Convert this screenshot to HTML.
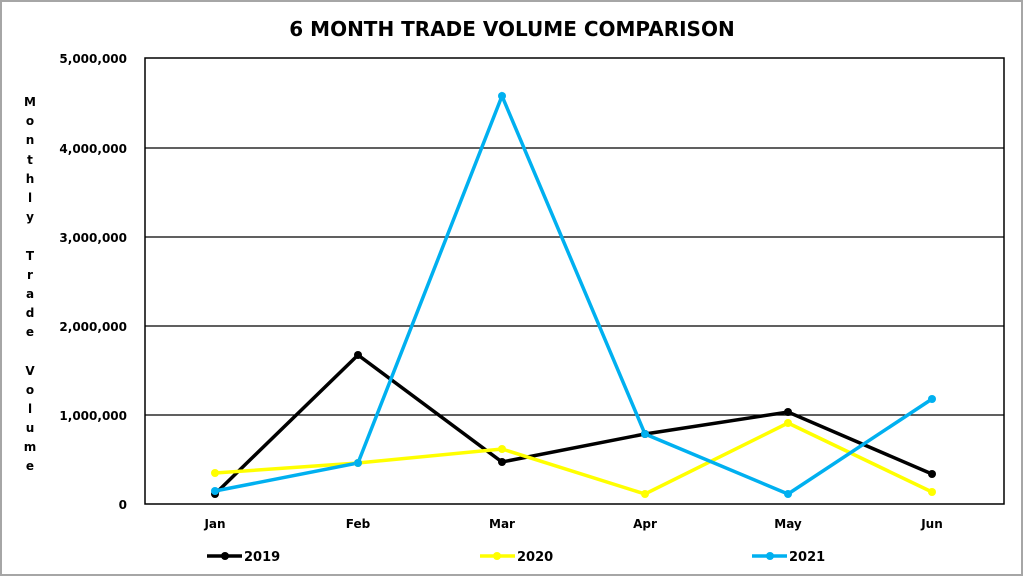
<!DOCTYPE html>
<html><head><style>
html,body{margin:0;padding:0;background:#fff;}
svg{display:block;font-family:"DejaVu Sans","Liberation Sans",sans-serif;font-weight:bold;}
</style></head><body>
<svg width="1024" height="577" viewBox="0 0 1024 577" xmlns="http://www.w3.org/2000/svg">
<rect x="1" y="1" width="1021" height="574" fill="#fff" stroke="#a6a6a6" stroke-width="2"/>
<text x="512" y="36" text-anchor="middle" font-size="20" fill="#000">6 MONTH TRADE VOLUME COMPARISON</text>
<g stroke="#000" stroke-width="1.3">
<line x1="145" y1="148" x2="1004" y2="148"/>
<line x1="145" y1="237" x2="1004" y2="237"/>
<line x1="145" y1="326" x2="1004" y2="326"/>
<line x1="145" y1="415" x2="1004" y2="415"/>
</g>
<rect x="145" y="58" width="859" height="446" fill="none" stroke="#000" stroke-width="1.5"/>
<g font-size="12" text-anchor="end" fill="#000">
<text x="127" y="63">5,000,000</text>
<text x="127" y="153">4,000,000</text>
<text x="127" y="242">3,000,000</text>
<text x="127" y="331">2,000,000</text>
<text x="127" y="420">1,000,000</text>
<text x="127" y="509">0</text>
</g>
<g font-size="12" text-anchor="middle" fill="#000">
<text x="215" y="528">Jan</text><text x="358" y="528">Feb</text><text x="502" y="528">Mar</text>
<text x="645" y="528">Apr</text><text x="788" y="528">May</text><text x="932" y="528">Jun</text>
</g>
<g font-size="12" text-anchor="middle" fill="#000">
<text x="30" y="106">M</text><text x="30" y="125">o</text><text x="30" y="144">n</text><text x="30" y="164">t</text><text x="30" y="183">h</text><text x="30" y="202">l</text><text x="30" y="221">y</text>
<text x="30" y="260">T</text><text x="30" y="279">r</text><text x="30" y="298">a</text><text x="30" y="317">d</text><text x="30" y="336">e</text>
<text x="30" y="375">V</text><text x="30" y="394">o</text><text x="30" y="413">l</text><text x="30" y="432">u</text><text x="30" y="451">m</text><text x="30" y="470">e</text>
</g>
<polyline points="215,494 358,355 502,462 645,434 788,412 932,474" fill="none" stroke="#000" stroke-width="3.5"/>
<polyline points="215,473 358,463 502,449 645,494 788,423 932,492" fill="none" stroke="#ffff00" stroke-width="3.5"/>
<polyline points="215,491 358,463 502,96 645,434 788,494 932,399" fill="none" stroke="#00b0f0" stroke-width="3.5"/>
<g fill="#000"><circle cx="215" cy="494" r="4"/><circle cx="358" cy="355" r="4"/><circle cx="502" cy="462" r="4"/><circle cx="645" cy="434" r="4"/><circle cx="788" cy="412" r="4"/><circle cx="932" cy="474" r="4"/></g>
<g fill="#ffff00"><circle cx="215" cy="473" r="4"/><circle cx="358" cy="463" r="4"/><circle cx="502" cy="449" r="4"/><circle cx="645" cy="494" r="4"/><circle cx="788" cy="423" r="4"/><circle cx="932" cy="492" r="4"/></g>
<g fill="#00b0f0"><circle cx="215" cy="491" r="4"/><circle cx="358" cy="463" r="4"/><circle cx="502" cy="96" r="4"/><circle cx="645" cy="434" r="4"/><circle cx="788" cy="494" r="4"/><circle cx="932" cy="399" r="4"/></g>
<g font-size="13" fill="#000">
<line x1="207" y1="556" x2="242" y2="556" stroke="#000" stroke-width="3.5"/><circle cx="225" cy="556" r="4"/>
<text x="244" y="561">2019</text>
<line x1="480" y1="556" x2="515" y2="556" stroke="#ffff00" stroke-width="3.5"/><circle cx="497" cy="556" r="4" fill="#ffff00"/>
<text x="517" y="561">2020</text>
<line x1="752" y1="556" x2="787" y2="556" stroke="#00b0f0" stroke-width="3.5"/><circle cx="770" cy="556" r="4" fill="#00b0f0"/>
<text x="789" y="561">2021</text>
</g>
</svg>
</body></html>
